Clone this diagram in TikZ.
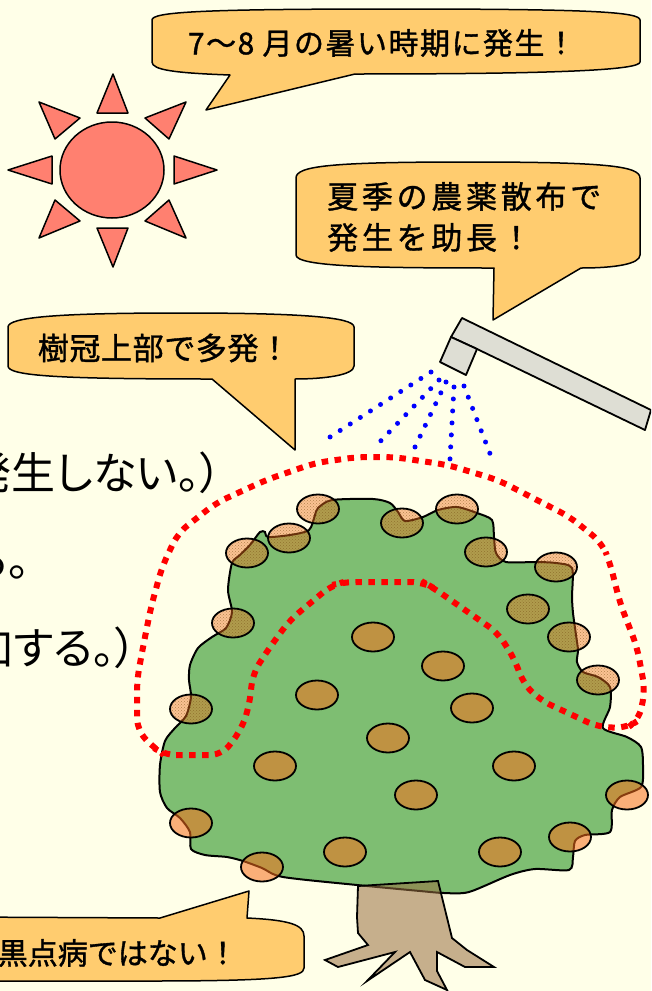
\documentclass[tikz,border=0pt]{standalone}
\usepackage{fontspec}
\usetikzlibrary{patterns}
\newfontfamily\jpfont[FakeBold=1.2]{Noto Sans CJK JP}
\newfontfamily\jpprop[RawFeature=+palt]{Noto Sans CJK JP}

\definecolor{bgcream}{RGB}{255,255,232}
\definecolor{bubblefill}{RGB}{255,204,111}
\definecolor{sunred}{RGB}{255,128,112}
\definecolor{canopygreen}{RGB}{126,190,114}
\definecolor{trunkbrown}{RGB}{152,111,65}
\definecolor{fruitorange}{RGB}{246,110,28}
\definecolor{spotbrown}{RGB}{120,80,20}
\definecolor{nozzlegray}{RGB}{222,222,212}

\tikzset{
  bubble/.style={draw=black, line width=1.5pt, fill=bubblefill, line join=round},
  bubbletext/.style={inner sep=0pt, text=black},
  bodytext/.style={inner sep=0pt, text=black, font=\jpprop\fontsize{44}{50}\selectfont},
  sunpart/.style={draw=black, line width=1.5pt, fill=sunred, line join=round},
  nozzle/.style={draw=black, line width=1.8pt, fill=nozzlegray, line join=round},
  spray/.style={blue, line width=5pt, line cap=round, dash pattern=on 0pt off 12pt},
  canopy/.style={draw=black, line width=2pt, fill=canopygreen},
  trunk/.style={draw=black, line width=1.8pt, fill=trunkbrown, fill opacity=0.55, draw opacity=1, line join=miter},
  fruit/.style={draw=black, line width=1.8pt, fill=fruitorange, fill opacity=0.55},
  spotfill/.style={fill=fruitorange, fill opacity=0.42},
  spotdots/.style={pattern=crosshatch dots, pattern color=spotbrown, fill opacity=0.55},
  fruitrim/.style={draw=black, line width=1.8pt},
  zone/.style={draw=red, line width=6pt, dash pattern=on 6.5pt off 6.5pt, rounded corners=12pt},
}

% plain fruit and spotted fruit, both of the same size
\newcommand\plainfruit[1]{\draw[fruit] #1 ellipse [x radius=21, y radius=14.5];}
\newcommand\spottedfruit[1]{%
  \path[spotfill] #1 ellipse [x radius=21, y radius=14.5];
  \path[spotdots] #1 ellipse [x radius=21, y radius=14.5];
  \draw[fruitrim] #1 ellipse [x radius=21, y radius=14.5];}

\begin{document}
\begin{tikzpicture}[x=1pt,y=-1pt]
\useasboundingbox (0,0) rectangle (651,991);
\clip (0,0) rectangle (651,991);
\fill[bgcream] (0,0) rectangle (651,991);

% text running off the left edge
\node[bodytext, anchor=east] (lineA) at (222,473) {発生しない。）};
\node[bodytext, anchor=east] (lineB) at (30,561) {る。};
\node[bodytext, anchor=east] (lineC) at (137,648) {加する。）};

% the sun
\draw[sunpart] (112,170) ellipse [x radius=52, y radius=48];
\draw[sunpart] (97,113) -- (128,113) -- (113,74) -- cycle;
\draw[sunpart] (97,228) -- (128,228) -- (113,267) -- cycle;
\draw[sunpart] (52,156) -- (52,184) -- (8,170) -- cycle;
\draw[sunpart] (174,156) -- (174,184) -- (217,170) -- cycle;
\draw[sunpart] (39,102) -- (80,118) -- (55,139) -- cycle;
\draw[sunpart] (186,102) -- (145,118) -- (169,139) -- cycle;
\draw[sunpart] (39,238) -- (55,200) -- (80,221) -- cycle;
\draw[sunpart] (186,238) -- (169,200) -- (145,221) -- cycle;

% speech bubbles
\draw[bubble] (152,62) -- (152,20) .. controls (152,12) and (200,9) .. (396,9)
  .. controls (592,9) and (640,12) .. (640,20) -- (640,62)
  .. controls (640,70) and (560,74) .. (355,74) -- (206,110) -- (230,75)
  .. controls (175,73) and (152,70) .. (152,62) -- cycle;
\node[bubbletext, font=\jpfont\fontsize{30}{34}\selectfont\addfontfeatures{LetterSpace=5}] (heat) at (382,43) {7〜8 月の暑い時期に発生！};

\draw[bubble] (296,255) -- (296,178) .. controls (296,166) and (330,162) .. (468,162)
  .. controls (606,162) and (640,166) .. (640,178) -- (640,255)
  .. controls (640,264) and (615,268) .. (581,268) -- (493,320) -- (494,268)
  .. controls (380,268) and (296,267) .. (296,255) -- cycle;
\node[bubbletext, anchor=west, align=left, font=\jpfont\fontsize{31}{41}\selectfont\addfontfeatures{LetterSpace=12}] (spraytxt) at (327,217) {夏季の農薬散布で\\発生を助長！};

\draw[bubble] (8,366) -- (8,327) .. controls (8,317) and (60,313) .. (181,313)
  .. controls (300,313) and (354,317) .. (354,327) -- (354,366)
  .. controls (354,375) and (325,379) .. (295,379) -- (295,450) -- (212,379)
  .. controls (60,379) and (8,376) .. (8,366) -- cycle;
\node[bubbletext, font=\jpfont\fontsize{31}{34}\selectfont\addfontfeatures{LetterSpace=2}] (crown) at (164,348) {樹冠上部で多発！};

\draw[bubble] (-40,917) -- (160,918) -- (249,891) -- (247,918)
  .. controls (290,920) and (304,925) .. (304,936) -- (304,968)
  .. controls (304,977) and (280,981) .. (150,981) -- (-40,981) -- cycle;
\node[bubbletext, anchor=east, font=\jpfont\fontsize{30}{34}\selectfont] (notblack) at (238,953) {黒点病ではない！};

% the spray nozzle
\draw[nozzle] (462,318) -- (651,410) -- (645,430) -- (477,349) -- (451,337) -- cycle;
\draw[nozzle] (451,337) -- (477,349) -- (466,375) -- (440,362) -- cycle;

% spray
\coordinate (s1) at (431,372); \coordinate (e1) at (330,437);
\coordinate (s2) at (439,380); \coordinate (e2) at (373,449);
\coordinate (s3) at (446,382); \coordinate (e3) at (415,447);
\coordinate (s4) at (454,387); \coordinate (e4) at (450,459);
\coordinate (s5) at (464,386); \coordinate (e5) at (494,464);
\foreach \i in {1,...,5} \draw[spray] (s\i) -- (e\i);

% tree crown
\draw[canopy] plot[smooth cycle, tension=0.45] coordinates {
  (232,563) (228,590) (232,612) (226,628) (212,637) (198,648) (190,665)
  (189,680) (191,697) (186,716) (175,728) (165,741) (160,765) (160,792)
  (167,808) (180,818) (190,832) (191,849) (205,855) (227,857) (243,861)
  (262,868) (283,877) (357,885) (420,891) (444,893) (469,892) (510,875)
  (535,869) (569,870) (573,857) (575,841) (585,835) (610,832) (612,810)
  (620,797) (641,787) (643,767) (641,747) (627,737) (603,728) (610,707)
  (610,687) (598,677) (583,672) (577,662) (578,650) (576,635) (573,613)
  (572,597) (572,568) (556,563) (536,562) (506,562) (496,553) (494,537)
  (492,520) (477,513) (457,507) (438,510) (423,517) (405,521) (398,512)
  (390,503) (373,499) (332,500) (318,508) (315,515) (309,530) (290,535)
  (268,537) (265,532) (260,532) (250,545) (240,555)};

% trunk and roots
\draw[trunk] (358,886) -- (357,917) -- (358,933) -- (368,945) -- (325,960)
  -- (338,967) -- (395,952) -- (367,981) -- (410,952) -- (425,980)
  -- (447,990) -- (437,971) -- (437,952) -- (465,967) -- (494,967)
  -- (467,950) -- (452,938) -- (438,881) -- cycle;

% healthy-looking fruit
\plainfruit{(373,637)}
\plainfruit{(443,666)}
\plainfruit{(317,695)}
\plainfruit{(472,708)}
\plainfruit{(388,738)}
\plainfruit{(275,766)}
\plainfruit{(514,766)}
\plainfruit{(416,795)}
\plainfruit{(191,823)}
\plainfruit{(627,795)}
\plainfruit{(345,852)}
\plainfruit{(500,852)}
\plainfruit{(570,837)}
\plainfruit{(262,867)}

% spotted fruit in the upper crown
\spottedfruit{(318,509)}
\spottedfruit{(289,538)}
\spottedfruit{(247,553)}
\spottedfruit{(233,623)}
\spottedfruit{(402,523)}
\spottedfruit{(457,509)}
\spottedfruit{(486,552)}
\spottedfruit{(556,567)}
\spottedfruit{(528,609)}
\spottedfruit{(569,637)}
\spottedfruit{(598,680)}
\spottedfruit{(191,709)}

% zone of frequent occurrence
\draw[zone] (164,755) -- (222,755) -- (241,730) -- (249,707) -- (253,673)
  -- (270,647) -- (290,620) -- (332,585) -- (344,582) -- (423,582)
  -- (432,587) -- (498,633) -- (515,660) -- (523,683) -- (540,700)
  -- (598,727) -- (627,728) -- (639,720) -- (645,690) -- (637,647)
  -- (620,603) -- (610,563) -- (602,543) -- (570,517) -- (498,480)
  -- (448,465) -- (394,457) -- (357,457) -- (315,463) -- (266,480)
  -- (216,503) -- (178,533) -- (162,567) -- (151,607) -- (143,647)
  -- (137,680) -- (137,730) -- (154,748) -- cycle;
\end{tikzpicture}
\end{document}
